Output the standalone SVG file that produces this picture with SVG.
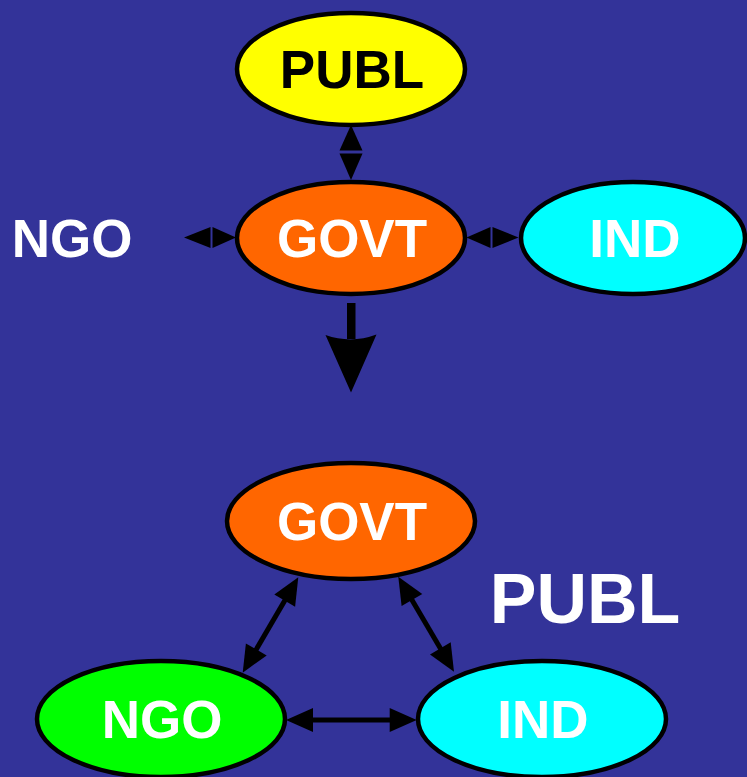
<svg xmlns="http://www.w3.org/2000/svg" width="747" height="777" viewBox="0 0 747 777">
<defs>
<style>
.node ellipse{stroke:#000;stroke-width:4.5}
text{font-family:"Liberation Sans",Arial,sans-serif;font-weight:bold;text-anchor:middle}
.lbl{font-size:53px}
.blk{fill:#000}
.wht{fill:#fff}
.conn line{stroke:#000;stroke-width:5}
.conn polygon,.conn path,.conn rect{fill:#000}
</style>
</defs>
<rect width="747" height="777" fill="#333399"/>
<g class="conn" id="connectors">
<polygon points="351,125 362.5,150.5 339.5,150.5"/>
<polygon points="351,180 362.5,153.5 339.5,153.5"/>
<polygon points="184,237.5 210.5,227 210.5,248"/>
<polygon points="236,237.5 212.5,227 212.5,248"/>
<polygon points="466.5,237.5 490.5,227 490.5,248"/>
<polygon points="518.5,237.5 492.5,227 492.5,248"/>
<rect x="347" y="303" width="8.5" height="36"/>
<path d="M325.5,335 Q351,344 376.5,334.5 L351,392.5 Z"/>
<line x1="294.3" y1="584.2" x2="246.7" y2="665.8"/>
<polygon points="298.3,577.3 295.1,606.7 274.3,594.6"/>
<polygon points="242.7,672.7 266.7,655.4 245.9,643.4"/>
<line x1="402.3" y1="583.6" x2="450" y2="664.8"/>
<polygon points="398.3,576.7 422.3,593.9 401.6,606.1"/>
<polygon points="454,671.7 450.7,642.3 430,654.5"/>
<line x1="294" y1="720" x2="409" y2="720"/>
<polygon points="286,720 313,708 313,732"/>
<polygon points="416.7,720 389.7,708 389.7,732"/>
</g>
<g class="node" id="publ-top">
<ellipse cx="351" cy="69" rx="114" ry="56" fill="#ffff00"/>
<text class="lbl blk" x="352" y="88">PUBL</text>
</g>
<g class="node" id="govt-top">
<ellipse cx="351" cy="238" rx="114" ry="56" fill="#ff6600"/>
<text class="lbl wht" x="352" y="257">GOVT</text>
</g>
<g class="node" id="ind-top">
<ellipse cx="633" cy="238" rx="112" ry="56" fill="#00ffff"/>
<text class="lbl wht" x="635" y="257">IND</text>
</g>
<g class="node" id="ngo-top">
<text class="lbl wht" x="72" y="257">NGO</text>
</g>
<g class="node" id="govt-bottom">
<ellipse cx="351" cy="521" rx="124" ry="58" fill="#ff6600"/>
<text class="lbl wht" x="352" y="540">GOVT</text>
</g>
<g class="node" id="ngo-bottom">
<ellipse cx="161" cy="719" rx="124" ry="58" fill="#00ff00"/>
<text class="lbl wht" x="162" y="738">NGO</text>
</g>
<g class="node" id="ind-bottom">
<ellipse cx="542" cy="719" rx="124" ry="58" fill="#00ffff"/>
<text class="lbl wht" x="543" y="738">IND</text>
</g>
<g class="node" id="publ-bottom">
<text class="wht" x="585" y="623" font-size="70">PUBL</text>
</g>
</svg>
